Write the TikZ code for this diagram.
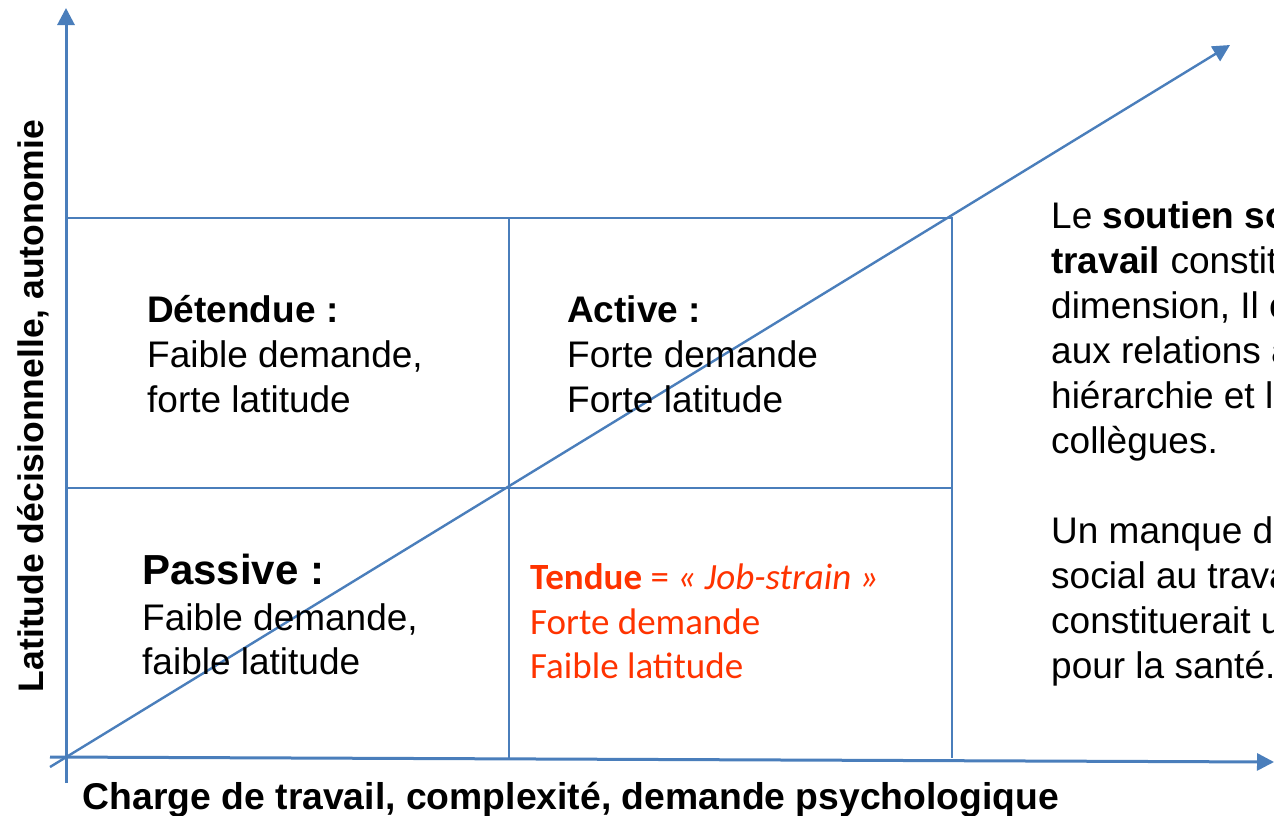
\documentclass[tikz,border=0pt]{standalone}
\usepackage{fontspec}
\setmainfont{Liberation Sans}
\newfontfamily\calibri{Carlito}
\usetikzlibrary{arrows.meta}
\definecolor{axisblue}{RGB}{74,126,187}
\definecolor{strainred}{RGB}{255,51,0}

\begin{document}
\begin{tikzpicture}[x=1pt,y=-1pt,
  axisline/.style={draw=axisblue,line width=3pt,-{Triangle[length=17pt,width=17pt]}},
  gridline/.style={draw=axisblue,line width=1.4pt},
  txt/.style={anchor=base west,inner sep=0pt,font=\fontsize{37}{45}\selectfont},
  redtxt/.style={anchor=base west,inner sep=0pt,text=strainred,font=\calibri\fontsize{37}{44.5}\selectfont},
  axislabel/.style={inner sep=0pt,font=\bfseries\fontsize{37.3}{44}\selectfont}]
\useasboundingbox (0,0) rectangle (1274,815);
\clip (0,0) rectangle (1274,815);

% axis end points
\coordinate (yb) at (66,783);
\coordinate (yt) at (66,8);
\coordinate (xl) at (50,757);
\coordinate (xr) at (1274,762);
\coordinate (dl) at (50,767);
\coordinate (dr) at (1230,45);

% quadrant grid
\coordinate (g1) at (66,218);
\coordinate (g2) at (952,218);
\coordinate (g3) at (952,758);
\coordinate (mt) at (509,218);
\coordinate (mb) at (509,758);
\coordinate (ml) at (66,488);
\coordinate (mr) at (952,488);
\draw[gridline] (g1) -- (g2) -- (g3);
\draw[gridline] (mt) -- (mb);
\draw[gridline] (ml) -- (mr);

% axes and diagonal
\draw[axisline] (yb) -- (yt);
\draw[axisline] (xl) -- (xr);
\draw[axisline,line width=2.4pt] (dl) -- (dr);

% quadrant texts
\node[txt] (d1) at (147,322) {\bfseries Détendue :};
\node[txt] (d2) at (147,367) {Faible demande,};
\node[txt] (d3) at (147,412) {forte latitude};

\node[txt] (a1) at (567,322) {\bfseries Active :};
\node[txt] (a2) at (567,367) {Forte demande};
\node[txt] (a3) at (567,412) {Forte latitude};

\node[txt,font=\bfseries\fontsize{42}{45}\selectfont] (p1) at (142,584) {Passive :};
\node[txt] (p2) at (142,630) {Faible demande,};
\node[txt] (p3) at (142,674) {faible latitude};

\node[redtxt] (t1) at (530,589) {\bfseries Tendue\mdseries{} = \itshape « Job-strain »};
\node[redtxt] (t2) at (530,634) {Forte demande};
\node[redtxt] (t3) at (530,678) {Faible latitude};

% social support note
\node[txt] (s1) at (1051,228) {Le \textbf{soutien social au}};
\node[txt] (s2) at (1051,273) {\textbf{travail} constitue une};
\node[txt] (s3) at (1051,318) {dimension, Il est lié};
\node[txt] (s4) at (1051,363) {aux relations avec la};
\node[txt] (s5) at (1051,408) {hiérarchie et les};
\node[txt] (s6) at (1051,453) {collègues.};
\node[txt] (s7) at (1051,543) {Un manque de soutien};
\node[txt] (s8) at (1051,588) {social au travail};
\node[txt] (s9) at (1051,633) {constituerait un risque};
\node[txt] (s10) at (1051,678) {pour la santé.};

% axis titles
\node[axislabel,anchor=base] (xlab) at (571,809) {Charge de travail, complexité, demande psychologique};
\node[axislabel,anchor=base,rotate=90,font=\bfseries\fontsize{35.5}{44}\selectfont] (ylab) at (43,406) {Latitude décisionnelle, autonomie};
\end{tikzpicture}
\end{document}
